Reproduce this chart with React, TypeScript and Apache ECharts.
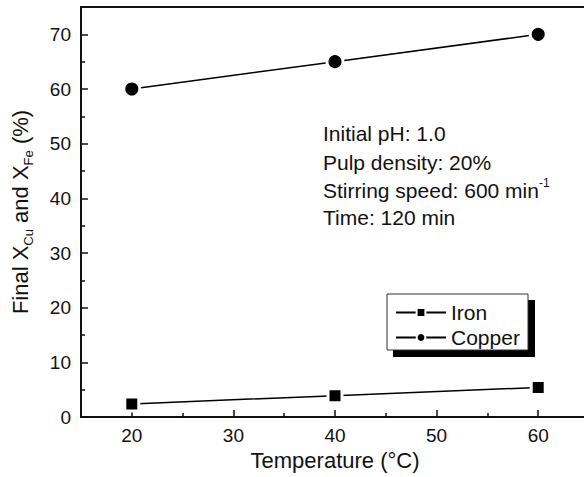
import React, { useEffect, useRef } from "react";
import * as echarts from "echarts";

const temperatures = [20, 40, 60];
const ironValues = [2.4, 3.9, 5.4];
const copperValues = [60, 65, 70];
const xMajorTicks = [20, 30, 40, 50, 60];
const xMinorTicks = [25, 35, 45, 55];
const yMajorTicks = [0, 10, 20, 30, 40, 50, 60, 70];
const yMinorTicks = [5, 15, 25, 35, 45, 55, 65];
const conditionLines = ["Initial pH: 1.0", "Pulp density: 20%", "Stirring speed: 600 min{sup|-1}", "Time: 120 min"];

const FONT = "Liberation Sans, Arial, Helvetica, sans-serif";
const INK = "#111";

export default function App() {
  const ref = useRef<HTMLDivElement>(null);
  useEffect(() => {
    if (!ref.current) return;
    const chart = echarts.init(ref.current, undefined, { renderer: "svg" });
    const axisLine = { show: true, lineStyle: { color: INK, width: 2 } };
    const condTops = [133, 162, 190, 217];
    chart.setOption({
      animation: false,
      textStyle: { fontFamily: FONT, color: INK },
      grid: { left: 81, top: 7, right: -5, bottom: 60, show: false, containLabel: false, outerBoundsMode: "none" },
      xAxis: [
        {
          type: "value", min: 15, max: 65, position: "bottom",
          axisLine,
          axisTick: { show: true, inside: true, length: 7, customValues: xMajorTicks, lineStyle: { color: INK, width: 1.5 } },
          axisLabel: { customValues: xMajorTicks, fontSize: 19, color: INK, margin: 9, fontFamily: FONT },
          splitLine: { show: false },
          name: "Temperature (°C)", nameLocation: "middle", nameGap: 31,
          nameTextStyle: { fontSize: 22, color: INK, fontFamily: FONT },
        },
        {
          type: "value", min: 15, max: 65, position: "bottom",
          axisLine: { show: false },
          axisTick: { show: true, inside: true, length: 4, customValues: xMinorTicks, lineStyle: { color: INK, width: 1.5 } },
          axisLabel: { show: false },
          splitLine: { show: false },
        },
        {
          type: "value", min: 15, max: 65, position: "top",
          axisLine,
          axisTick: { show: false },
          axisLabel: { show: false },
          splitLine: { show: false },
        },
      ],
      yAxis: [
        {
          type: "value", min: 0, max: 75, position: "left",
          axisLine,
          axisTick: { show: true, inside: true, length: 7, customValues: yMajorTicks, lineStyle: { color: INK, width: 1.5 } },
          axisLabel: { customValues: yMajorTicks, fontSize: 19, color: INK, margin: 10, fontFamily: FONT },
          splitLine: { show: false },
          name: "{b|Final X}{sub|Cu}{b| and X}{sub|Fe}{b| (%)}", nameLocation: "middle", nameGap: 46,
          nameTextStyle: {
            fontSize: 22, color: INK, fontFamily: FONT,
            rich: {
              b: { fontSize: 22, lineHeight: 30, verticalAlign: "middle", color: INK, fontFamily: FONT },
              sub: { fontSize: 13, lineHeight: 13, verticalAlign: "bottom", color: INK, fontFamily: FONT },
            },
          },
        },
        {
          type: "value", min: 0, max: 75, position: "left",
          axisLine: { show: false },
          axisTick: { show: true, inside: true, length: 4, customValues: yMinorTicks, lineStyle: { color: INK, width: 1.5 } },
          axisLabel: { show: false },
          splitLine: { show: false },
        },
      ],
      legend: {
        z: 100,
        left: 395, top: 302, padding: 0,
        orient: "vertical",
        itemWidth: 50, itemHeight: 11, itemGap: 4,
        textStyle: { fontSize: 21, color: INK, fontFamily: FONT },
        itemStyle: { borderColor: "#fff", borderWidth: 2 },
        data: ["Iron", "Copper"],
      },
      graphic: [
        { type: "rect", z: -2, shape: { x: 393, y: 300, width: 142, height: 57 }, style: { fill: "#000" } },
        { type: "rect", z: -1, shape: { x: 387, y: 294, width: 141, height: 56 }, style: { fill: "#fff", stroke: "#333", lineWidth: 1 } },
        ...conditionLines.map((t, i) => ({
          type: "text", z: 5, x: 323, y: condTops[i],
          style: {
            text: t, fontSize: 21, fill: INK, fontFamily: FONT, verticalAlign: "middle",
            rich: { sup: { fontSize: 12, verticalAlign: "top", lineHeight: 26, fill: INK, fontFamily: FONT } },
          },
        })),
      ],
      series: [
        {
          name: "Iron", type: "line", xAxisIndex: 0, yAxisIndex: 0,
          data: temperatures.map((t, i) => [t, ironValues[i]]),
          symbol: "rect", symbolSize: 14,
          itemStyle: { color: "#000", borderColor: "#fff", borderWidth: 3 },
          lineStyle: { color: "#000", width: 1.5 },
        },
        {
          name: "Copper", type: "line", xAxisIndex: 0, yAxisIndex: 0,
          data: temperatures.map((t, i) => [t, copperValues[i]]),
          symbol: "circle", symbolSize: 16,
          itemStyle: { color: "#000", borderColor: "#fff", borderWidth: 3 },
          lineStyle: { color: "#000", width: 1.5 },
        },
      ],
    });
    return () => chart.dispose();
  }, []);
  return <div ref={ref} style={{ width: 584, height: 477, position: "absolute", left: 0, top: 0 }} />;
}
